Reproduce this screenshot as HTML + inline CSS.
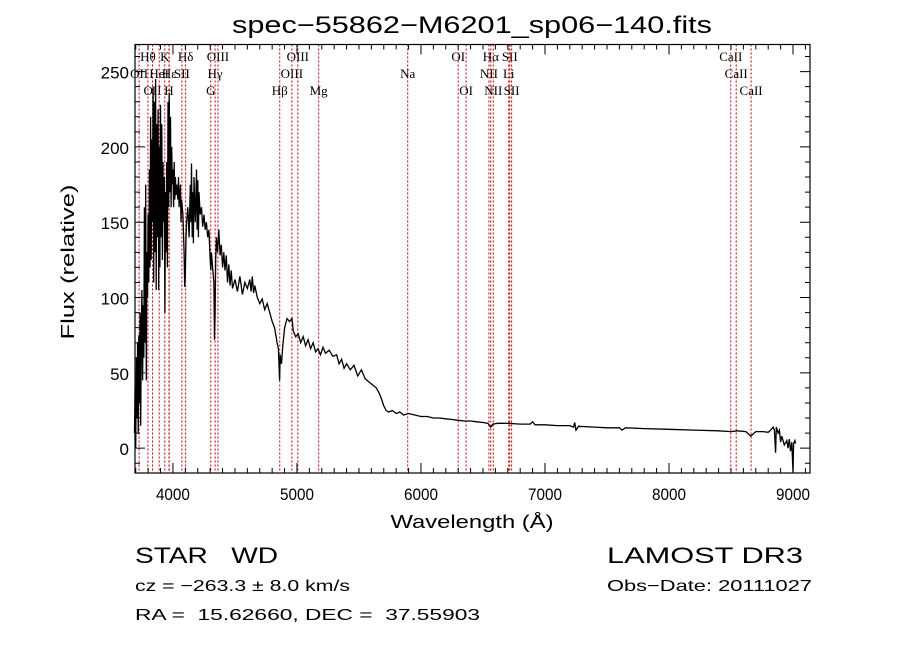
<!DOCTYPE html>
<html><head><meta charset="utf-8"><style>
html,body{margin:0;padding:0;background:#fff;}
svg{display:block;}
text{font-family:"Liberation Sans",sans-serif;fill:#000;white-space:pre;}
.lab{font-family:"Liberation Serif",serif;font-size:13px;}
</style></head><body>
<svg id="chart" width="900" height="649" viewBox="0 0 900 649" xmlns="http://www.w3.org/2000/svg" xml:space="preserve">
<rect x="0" y="0" width="900" height="649" fill="#fff"/>
<text x="472" y="33" font-size="24" text-anchor="middle" textLength="480" lengthAdjust="spacingAndGlyphs">spec−55862−M6201_sp06−140.fits</text>
<g id="lines"></g>
<g id="series"></g>
<g id="axes"></g>
<text x="472" y="528" font-size="18" text-anchor="middle" textLength="163" lengthAdjust="spacingAndGlyphs">Wavelength (Å)</text>
<text transform="translate(74,262) rotate(-90)" font-size="18" text-anchor="middle" textLength="155" lengthAdjust="spacingAndGlyphs">Flux (relative)</text>
<text x="135" y="563" font-size="22" textLength="143" lengthAdjust="spacingAndGlyphs">STAR   WD</text>
<text x="607" y="563" font-size="22" textLength="196" lengthAdjust="spacingAndGlyphs">LAMOST DR3</text>
<text x="135" y="591" font-size="16" textLength="215" lengthAdjust="spacingAndGlyphs">cz = −263.3 ± 8.0 km/s</text>
<text x="607" y="591" font-size="16" textLength="205" lengthAdjust="spacingAndGlyphs">Obs−Date: 20111027</text>
<text x="135" y="620" font-size="16" textLength="345" lengthAdjust="spacingAndGlyphs">RA =  15.62660, DEC =  37.55903</text>
</svg>
<script>
const waves=[3690,3695,3700,3705,3710,3715,3720,3725,3730,3735,3740,3745,3750,3755,3760,3765,3770,3775,3780,3785,3790,3795,3800,3805,3810,3815,3820,3825,3830,3835,3840,3845,3850,3855,3860,3865,3870,3875,3880,3885,3890,3895,3900,3905,3910,3915,3920,3925,3930,3935,3940,3945,3950,3955,3960,3965,3970,3975,3980,3985,3990,3995,4000,4005,4010,4015,4020,4025,4030,4040,4045,4050,4060,4065,4070,4080,4090,4095,4100,4105,4110,4120,4130,4140,4145,4150,4155,4160,4165,4170,4180,4190,4195,4200,4205,4210,4220,4230,4240,4250,4260,4270,4280,4290,4300,4305,4310,4320,4330,4335,4340,4345,4350,4360,4370,4380,4390,4400,4410,4420,4430,4440,4450,4460,4470,4480,4500,4520,4540,4560,4580,4600,4620,4630,4640,4650,4660,4680,4700,4720,4740,4760,4780,4800,4820,4840,4850,4860,4865,4875,4885,4900,4920,4940,4960,4970,4990,5010,5030,5050,5070,5090,5110,5130,5150,5170,5190,5210,5230,5260,5290,5320,5340,5360,5380,5400,5430,5460,5490,5520,5550,5580,5610,5640,5660,5680,5700,5720,5740,5770,5800,5830,5860,5900,5950,6000,6050,6100,6150,6200,6250,6300,6350,6400,6450,6500,6540,6563,6580,6620,6700,6800,6880,6900,6920,7000,7100,7200,7230,7240,7250,7270,7400,7500,7600,7620,7650,7800,8000,8200,8400,8500,8550,8620,8660,8700,8760,8800,8820,8840,8850,8860,8865,8880,8890,8900,8910,8930,8950,8960,8970,8980,8990,9000,9005,9015,9020];
const flux=[10,40,0,60,20,70,10,75,30,90,15,80,105,45,95,60,160,70,175,45,130,100,155,110,185,120,220,125,205,150,240,110,230,130,245,105,215,140,225,105,200,120,228,140,215,125,190,150,180,90,170,130,190,120,230,160,236,170,220,160,200,175,185,160,190,165,180,168,175,165,180,160,175,150,165,155,130,107,115,140,150,160,140,175,150,189,140,170,136,180,150,185,145,178,140,170,155,160,147,155,145,150,140,145,125,118,130,120,110,72,90,125,140,130,145,128,135,120,130,118,128,110,122,108,118,106,112,104,114,102,110,106,112,104,114,103,108,100,96,99,92,96,90,84,80,70,66,45,62,56,67,80,86,84,86,78,74,76,70,74,68,72,66,70,64,66,62,67,63,65,61,62,56,59,53,56,52,55,48,52,46,44,42,40,37,33,28,25,24,25,23,24,22,23,22,21,21,20,20,19.5,19,18.5,18,18,17.5,17,16.5,14,16,16.5,16.5,16,16,17.5,15.5,15.5,15,15,14,17,12,14.5,14,13.5,13.5,12,13.5,13,12.5,12,11.5,11,11.5,11,8,11,11,10.5,12,14,12,-3,14,10,12,4,8,2,5,0,6,-2,4,-16,3,5,3];
const lineWaves=[3727,3798,3835,3889,3934,3968,3970,4072,4102,4305,4340,4363,4861,4959,5007,5175,5893,6300,6364,6548,6563,6583,6708,6716,6731,8498,8542,8662];
const lineNames=["OII","Hθ","OII","HeI","K","H","Hε","SII","Hδ","G","Hγ","OIII","Hβ","OIII","OIII","Mg","Na","OI","OI","NII","Hα","NII","Li","SII","SII","CaII","CaII","CaII"];
const lineRows=[2,1,3,2,1,3,2,2,1,3,2,1,3,2,1,3,2,1,3,2,1,3,2,1,3,1,2,3];
const xTicks=[4000,5000,6000,7000,8000,9000];
const yTicks=[0,50,100,150,200,250];
const X0=135,X1=810,Y0=44.5,Y1=473;
const WMIN=3694,WMAX=9137,FMIN=-16.5,FMAX=268;
const sx=w=>X0+(w-WMIN)/(WMAX-WMIN)*(X1-X0);
const sy=f=>Y1-(f-FMIN)/(FMAX-FMIN)*(Y1-Y0);
const NS="http://www.w3.org/2000/svg";
function mk(tag,attrs,parent){const e=document.createElementNS(NS,tag);for(const k in attrs)e.setAttribute(k,attrs[k]);parent.appendChild(e);return e;}
const gL=document.getElementById('lines'),gS=document.getElementById('series'),gA=document.getElementById('axes');
const rowY={1:61,2:78,3:95};
lineWaves.forEach((w,i)=>{
  const x=sx(w);
  const l=mk('line',{x1:x,x2:x,y1:Y0,y2:Y1,stroke:'#c00000','stroke-width':1,'stroke-dasharray':'2,2'},gL);
  
  
  const t=mk('text',{x:x,y:rowY[lineRows[i]],'text-anchor':'middle',class:'lab'},gL);
  t.textContent=lineNames[i];
  
  
});
const pts=waves.map((w,i)=>sx(w).toFixed(1)+','+Math.min(Y1,Math.max(Y0,sy(flux[i]))).toFixed(1)).join(' ');
const pl=mk('polyline',{points:pts,fill:'none',stroke:'#000','stroke-width':1.3,'stroke-linejoin':'miter'},gS);


const fr=mk('rect',{x:X0,y:Y0,width:X1-X0,height:Y1-Y0,fill:'none',stroke:'#000','stroke-width':1.2},gA);


let d='';
for(let w=3700;w<=9100;w+=100){const x=sx(w);if(x<X0||x>X1)continue;const L=(w%1000===0)?10:5;d+=`M${x},${Y1}v${-L}M${x},${Y0}v${L}`;}
for(let f=-10;f<=260;f+=10){const y=sy(f);const L=(f%50===0)?10:5;d+=`M${X0},${y}h${L}M${X1},${y}h${-L}`;}
const tk=mk('path',{d:d,stroke:'#000','stroke-width':1,fill:'none'},gA);


xTicks.forEach(w=>{const t=mk('text',{x:sx(w),y:500,'font-size':17,'text-anchor':'middle',textLength:34,lengthAdjust:'spacingAndGlyphs'},gA);t.textContent=w;
  
  });
yTicks.forEach(f=>{const t=mk('text',{x:129,y:sy(f)+7,'font-size':17,'text-anchor':'end'},gA);t.textContent=f;
  
  });
</script>
</body></html>
